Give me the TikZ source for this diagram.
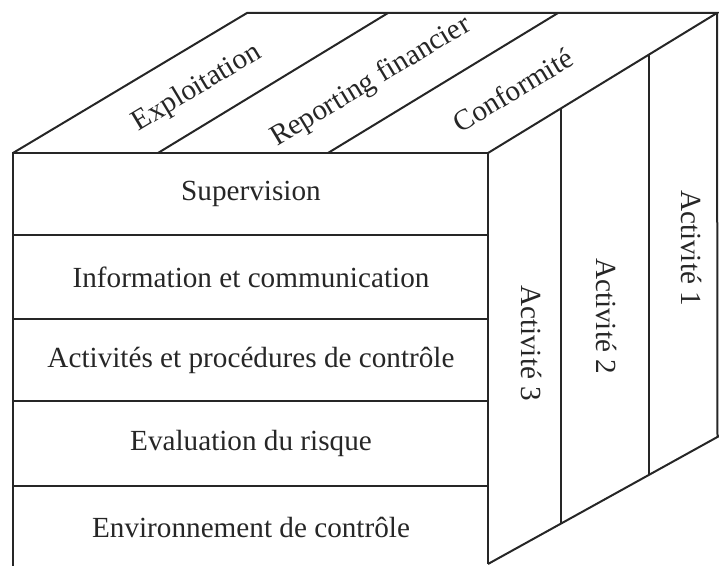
\documentclass[tikz,border=0pt]{standalone}
\usepackage{fontspec}
\setmainfont{Liberation Serif}
\begin{document}
\begin{tikzpicture}[x=0.5pt,y=-0.5pt,
  edge/.style={draw=black!85,line width=1pt,line join=miter},
  lbl/.style={font=\fontsize{14.6pt}{16pt}\selectfont,text=black!85,inner sep=0pt}]
\useasboundingbox (0,0) rectangle (719,566);
% corner coordinates
\coordinate (A) at (13,153);
\coordinate (B) at (488,153);
\coordinate (C) at (488,564);
\coordinate (D) at (13,572);
\coordinate (E) at (247,13);
\coordinate (F) at (717,13);
\coordinate (G) at (721,435);
% front face
\draw[edge] (D) -- (A) -- (B) -- (C);
\foreach \y in {235,319,401,486}{\draw[edge] (13,\y) -- (488,\y);}
% top face
\draw[edge] (A) -- (E) -- (F) -- (B);
\coordinate (t1) at (158,153); \coordinate (t1b) at (388,13);
\coordinate (t2) at (328,153); \coordinate (t2b) at (558,13);
\draw[edge] (t1) -- (t1b);
\draw[edge] (t2) -- (t2b);
% right face
\draw[edge] (C) -- (G);
\draw[edge] (F) -- (717.5,437);
\coordinate (r1) at (561,108.4); \coordinate (r1b) at (561,524);
\coordinate (r2) at (649,54.6); \coordinate (r2b) at (649,475.5);
\draw[edge] (r1) -- (r1b);
\draw[edge] (r2) -- (r2b);
% front labels
\node[lbl] (sup) at (251,194) {Supervision};
\node[lbl] (inf) at (251,277) {Information et communication};
\node[lbl] (act) at (251,360) {Activités et procédures de contrôle};
\node[lbl] (eva) at (251,443) {Evaluation du risque};
\node[lbl] (env) at (251,527) {Environnement de contrôle};
% top labels
\node[lbl,rotate=31] (exp) at (197,88) {Exploitation};
\node[lbl,rotate=31] (rep) at (371,82) {Reporting financier};
\node[lbl,rotate=31] (con) at (513,90) {Conformité};
% right labels
\node[lbl,rotate=-90] (a1) at (692,248) {Activité 1};
\node[lbl,rotate=-90] (a2) at (607,316) {Activité 2};
\node[lbl,rotate=-90] (a3) at (532,343) {Activité 3};
\end{tikzpicture}
\end{document}
